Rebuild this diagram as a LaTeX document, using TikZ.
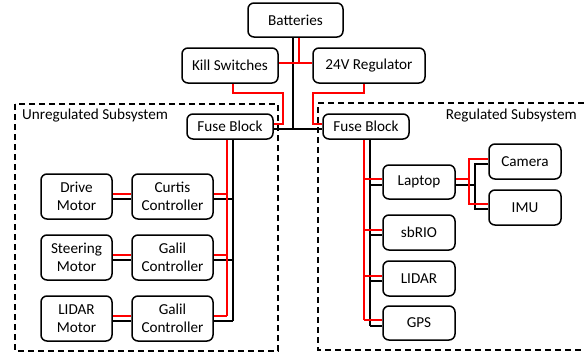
\documentclass[tikz,border=0pt]{standalone}
\usepackage{fontspec}
\setmainfont{Carlito}
\usetikzlibrary{calc}
\newcommand\mybox[6]{\node[box, minimum width={(#4-#2)*1pt}, minimum height={(#5-#3)*1pt}] (#1) at ({(#2+#4)/2},{(#3+#5)/2}) {#6};}
\begin{document}
\begin{tikzpicture}[x=1pt,y=-1pt,
  box/.style={draw, line width=1.5pt, rounded corners=6pt, align=center, inner sep=0pt, fill=white,
    font=\fontsize{15.2}{18}\selectfont},
  lbl/.style={inner sep=0pt, font=\fontsize{15.2}{18}\selectfont},
  blk/.style={line width=2pt, black},
  rd/.style={line width=2pt, red},
  region/.style={line width=1.5pt, dash pattern=on 6pt off 4pt}]
\useasboundingbox (0,0) rectangle (584,354);
% regions
\draw[region] (15,104) rectangle (278,351);
\draw[region] (584,103) -- (318,103) -- (318,350) -- (584,350);
\node[lbl, anchor=west] (lblU) at (22,116) {Unregulated Subsystem};
\node[lbl, anchor=east] (lblR) at (577,116) {Regulated Subsystem};
% boxes
\mybox{bat}{248}{3}{343}{37}{Batteries}
\mybox{kill}{182}{48}{278}{83}{Kill Switches}
\mybox{reg}{313}{48}{425}{83}{24V Regulator}
\mybox{fuseL}{187}{114}{273}{139}{Fuse Block}
\mybox{fuseR}{323}{114}{409}{139}{Fuse Block}
\mybox{dm}{41}{174}{112}{219}{Drive\\Motor}
\mybox{cc}{132}{174}{213}{219}{Curtis\\Controller}
\mybox{sm}{41}{235}{112}{280}{Steering\\Motor}
\mybox{gc1}{132}{235}{213}{280}{Galil\\Controller}
\mybox{lm}{41}{296}{112}{341}{LIDAR\\Motor}
\mybox{gc2}{132}{296}{213}{341}{Galil\\Controller}
\mybox{lap}{383}{165}{455}{199}{Laptop}
\mybox{sbrio}{383}{215}{455}{250}{sbRIO}
\mybox{lidar}{383}{261}{455}{296}{LIDAR}
\mybox{gps}{383}{306}{455}{340}{GPS}
\mybox{cam}{489}{144}{561}{179}{Camera}
\mybox{imu}{489}{190}{561}{225}{IMU}
% junction coordinates
\coordinate (bj) at (293,128.5);
\coordinate (rj) at (299,63);
\coordinate (kr) at (283,93);
\coordinate (rr) at (313,93);
\coordinate (lbr) at (227,316);
\coordinate (lbb) at (232.5,320.5);
\coordinate (rbr) at (364,320);
\coordinate (rbb) at (369.5,325.5);
\coordinate (lr) at (469,0);
\coordinate (lb) at (475,0);
% ---- black wires
\draw[blk] (bat.south -| bj) -- (bj);
\draw[blk] (fuseL.east |- bj) -- (fuseR.west |- bj);
\draw[blk] (fuseL.south -| lbb) -- (lbb);
\foreach \m/\c in {dm/cc, sm/gc1, lm/gc2}{
  \draw[blk] ([yshift=-2pt]\m.east) -- ([yshift=-2pt]\c.west);
  \draw[blk] ([yshift=-2pt]\c.east) -- ([yshift=-2pt]\c.east -| lbb);
}
\draw[blk] (fuseR.south -| rbb) -- (rbb);
\foreach \d in {lap, sbrio, lidar, gps}{
  \draw[blk] ([yshift=-2.5pt]\d.west) -- ([yshift=-2.5pt]\d.west -| rbb);
}
\draw[blk] ([yshift=-2.5pt]lap.east) -- ([yshift=-2.5pt]lap.east -| lb);
\draw[blk] ([yshift=-2.5pt]cam.west) -| ([yshift=-1pt]imu.west -| lb) -- ([yshift=-1pt]imu.west);
% ---- red wires
\draw[rd] (bat.south -| rj) -- (rj);
\draw[rd] (kill.east |- rj) -- (reg.west |- rj);
\draw[rd] ([xshift=3pt]kill.south) |- (kr) |- ([yshift=2.5pt]fuseL.east);
\draw[rd] ([xshift=-5pt]reg.south) |- (rr) |- ([yshift=2.5pt]fuseR.west);
\draw[rd] (fuseL.south -| lbr) -- (lbr);
\foreach \m/\c in {dm/cc, sm/gc1, lm/gc2}{
  \draw[rd] ([yshift=2.5pt]\m.east) -- ([yshift=2.5pt]\c.west);
  \draw[rd] ([yshift=2.5pt]\c.east) -- ([yshift=2.5pt]\c.east -| lbr);
}
\draw[rd] (fuseR.south -| rbr) -- (rbr);
\foreach \d in {lap, sbrio, lidar, gps}{
  \draw[rd] ([yshift=3pt]\d.west) -- ([yshift=3pt]\d.west -| rbr);
}
\draw[rd] ([yshift=3pt]lap.east) -- ([yshift=3pt]lap.east -| lr);
\draw[rd] ([yshift=3pt]cam.west) -| ([yshift=3.5pt]imu.west -| lr) -- ([yshift=3.5pt]imu.west);
\end{tikzpicture}
\end{document}
